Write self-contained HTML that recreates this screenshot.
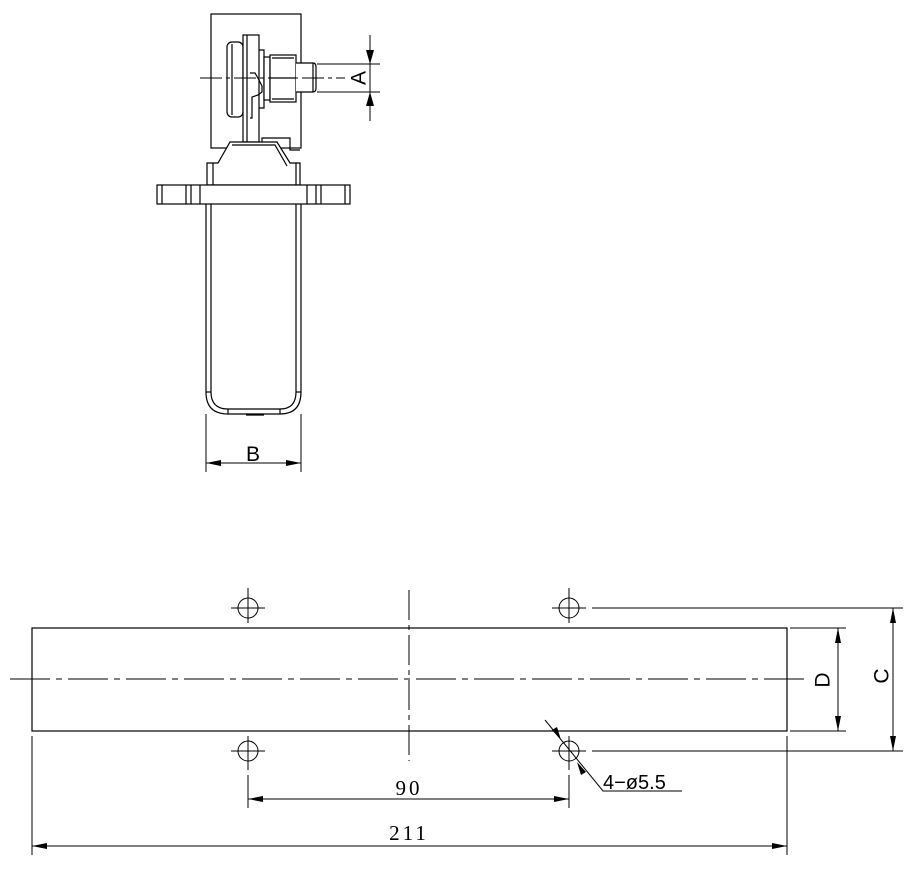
<!DOCTYPE html>
<html><head><meta charset="utf-8"><style>html,body{margin:0;padding:0;background:#fff}svg{display:block}</style></head>
<body>
<svg width="914" height="873" viewBox="0 0 914 873" xmlns="http://www.w3.org/2000/svg" font-family="Liberation Sans, sans-serif">
<g fill="none" stroke="#000" stroke-width="1.2">
<rect x="211" y="14" width="90" height="134"/>
<rect x="227" y="42" width="16" height="75" rx="5" fill="#fff"/>
<line x1="232" y1="44" x2="232" y2="115"/>
<rect x="243" y="35" width="16" height="107" fill="#fff"/>
<line x1="247" y1="35" x2="247" y2="142"/>
<polyline points="259,50 264,50 264,108 259,108"/>
<polyline points="250,73 255,73 259,80 262,86 262,92 258,95 252,97 252,118 250,118" />
<rect x="264" y="57" width="6" height="43" fill="#fff"/>
<rect x="270" y="55" width="26" height="47" fill="#fff"/>
<line x1="270" y1="78" x2="296" y2="78"/>
<line x1="272" y1="58" x2="294" y2="58"/>
<line x1="272" y1="99" x2="294" y2="99"/>
<path d="M296,63 H313 Q316,63 316,67 V88 Q316,92 313,92 H296" fill="#fff"/>
<line x1="313" y1="63" x2="313" y2="92"/>
<polygon points="230,142 277,142 290,163 300,163 300,185 207,185 207,163 218,163" fill="#fff"/>
<polyline points="262,142 262,138 290,138 290,150 300,150"/>
<polyline points="232,145 275,145 287,166"/>
<line x1="213" y1="163" x2="213" y2="185"/>
<line x1="296" y1="163" x2="296" y2="185"/>
<rect x="157" y="185" width="193" height="19" fill="#fff"/>
<line x1="162" y1="185" x2="162" y2="204"/>
<line x1="345" y1="185" x2="345" y2="204"/>
<line x1="186" y1="185" x2="186" y2="204"/>
<line x1="191" y1="185" x2="191" y2="204"/>
<line x1="316" y1="185" x2="316" y2="204"/>
<line x1="321" y1="185" x2="321" y2="204"/>
<line x1="200" y1="185" x2="200" y2="204"/>
<line x1="307" y1="185" x2="307" y2="204"/>
<path d="M206,204 V392 Q206,414 228,414 H280 Q301,414 301,392 V204"/>
<path d="M211,204 V392 Q211,409 228,409 H280 Q296,409 296,392 V204"/>
<line x1="206" y1="392" x2="211" y2="392"/>
<line x1="296" y1="392" x2="301" y2="392"/>
<line x1="228" y1="409" x2="228" y2="414"/>
<line x1="280" y1="409" x2="280" y2="414"/>
<line x1="246" y1="415" x2="264" y2="415"/>
<line x1="200" y1="78" x2="345" y2="78" stroke-width="1" stroke-dasharray="22,4,4,4"/>
<line x1="317" y1="64" x2="380" y2="64" stroke-width="1"/>
<line x1="317" y1="92" x2="380" y2="92" stroke-width="1"/>
<line x1="370" y1="35" x2="370" y2="121" stroke-width="1"/>
<line x1="206" y1="414" x2="206" y2="472" stroke-width="1"/>
<line x1="301" y1="414" x2="301" y2="472" stroke-width="1"/>
<line x1="206" y1="463" x2="301" y2="463" stroke-width="1"/>
<rect x="32" y="628" width="755" height="103"/>
<line x1="10" y1="679" x2="805" y2="679" stroke-width="1" stroke-dasharray="40,6,6,6"/>
<line x1="409" y1="590" x2="409" y2="761" stroke-width="1" stroke-dasharray="30,5,5,5"/>
<g stroke-width="1">
<circle cx="248" cy="608" r="10"/><circle cx="569" cy="608" r="10"/>
<circle cx="248" cy="751" r="10"/><circle cx="569" cy="751" r="10"/>
<path d="M231,608H265M248,588V623M552,608H586M569,588V623M231,751H265M248,736V770M552,751H586M569,736V770"/>
<line x1="592" y1="608" x2="903" y2="608"/>
<line x1="592" y1="751" x2="903" y2="751"/>
<line x1="790" y1="628" x2="846" y2="628"/>
<line x1="790" y1="731" x2="846" y2="731"/>
<line x1="838" y1="628" x2="838" y2="731"/>
<line x1="893" y1="608" x2="893" y2="751"/>
<line x1="248" y1="775" x2="248" y2="808"/>
<line x1="569" y1="775" x2="569" y2="808"/>
<line x1="248" y1="799" x2="569" y2="799"/>
<line x1="32" y1="736" x2="32" y2="855"/>
<line x1="787" y1="736" x2="787" y2="855"/>
<line x1="32" y1="846" x2="787" y2="846"/>
<polyline points="545,720 603,791 682,791"/>
</g>
</g>
<g fill="#000">
<polygon points="370,64 366,50 374,50"/>
<polygon points="370,92 366,106 374,106"/>
<polygon points="206,463 221,460 221,466"/>
<polygon points="301,463 286,460 286,466"/>
<polygon points="838,628 835,643 841,643"/>
<polygon points="838,731 835,716 841,716"/>
<polygon points="893,608 890,623 896,623"/>
<polygon points="893,751 890,736 896,736"/>
<polygon points="248,799 263,796 263,802"/>
<polygon points="569,799 554,796 554,802"/>
<polygon points="32,846 47,843 47,849"/>
<polygon points="787,846 772,843 772,849"/>
<polygon points="561,740 552,730 557,727"/>
<polygon points="577,762 586,772 581,775"/>
</g>
<g font-size="21" fill="#000">
<text x="359" y="78" transform="rotate(-90 359 78)" text-anchor="middle" dominant-baseline="central">A</text>
<text x="253" y="461" text-anchor="middle">B</text>
<text x="823" y="680" transform="rotate(-90 823 680)" text-anchor="middle" dominant-baseline="central">D</text>
<text x="882" y="676" transform="rotate(-90 882 676)" text-anchor="middle" dominant-baseline="central">C</text>
<text x="603" y="789" font-size="20">4−ø5.5</text>
</g>
<g font-family="Liberation Serif, serif" font-size="21" fill="#000">
<text x="409" y="795" text-anchor="middle" letter-spacing="3">90</text>
<text x="409" y="840" text-anchor="middle" letter-spacing="3">211</text>
</g>
</svg>
</body></html>
